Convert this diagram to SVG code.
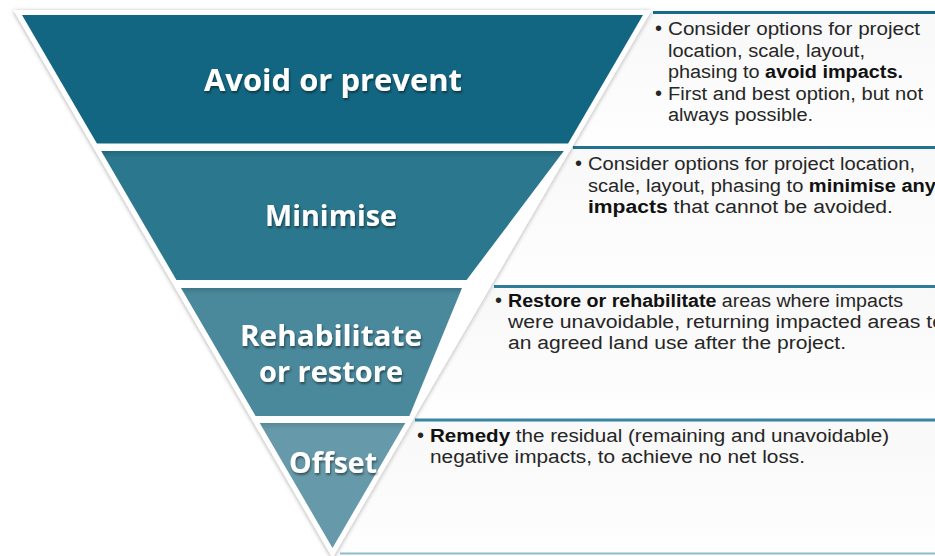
<svg xmlns="http://www.w3.org/2000/svg" width="935" height="556" viewBox="0 0 935 556">
  <defs>
    <filter id="outlineShadow" x="-10%" y="-10%" width="120%" height="120%">
      <feGaussianBlur in="SourceAlpha" stdDeviation="2.2"/>
      <feOffset dx="0" dy="1" result="blur"/>
      <feFlood flood-color="#000" flood-opacity="0.35"/>
      <feComposite in2="blur" operator="in"/>
      <feMerge><feMergeNode/><feMergeNode in="SourceGraphic"/></feMerge>
    </filter>
    <filter id="labelShadow" x="-10%" y="-30%" width="120%" height="160%">
      <feGaussianBlur in="SourceAlpha" stdDeviation="1"/>
      <feOffset dx="1" dy="1.5" result="blur"/>
      <feFlood flood-color="#000" flood-opacity="0.45"/>
      <feComposite in2="blur" operator="in"/>
      <feMerge><feMergeNode/><feMergeNode in="SourceGraphic"/></feMerge>
    </filter>
    <linearGradient id="boxFill" x1="0" y1="0" x2="0" y2="1">
      <stop offset="0" stop-color="#f8f8f8"/>
      <stop offset="1" stop-color="#fefefe"/>
    </linearGradient>
    <linearGradient id="g1" x1="0" y1="0" x2="0" y2="1">
      <stop offset="0" stop-color="#136681"/>
      <stop offset="1" stop-color="#136681"/>
    </linearGradient>
    <linearGradient id="g2" x1="0" y1="0" x2="0" y2="1">
      <stop offset="0" stop-color="#21677c"/>
      <stop offset="0.05" stop-color="#2b778d"/>
      <stop offset="1" stop-color="#2b778d"/>
    </linearGradient>
    <linearGradient id="g3" x1="0" y1="0" x2="0" y2="1">
      <stop offset="0" stop-color="#3d7789"/>
      <stop offset="0.05" stop-color="#4a889b"/>
      <stop offset="1" stop-color="#4a889b"/>
    </linearGradient>
    <linearGradient id="g4" x1="0" y1="0" x2="0" y2="1">
      <stop offset="0" stop-color="#588a99"/>
      <stop offset="0.05" stop-color="#6699a9"/>
      <stop offset="1" stop-color="#6699a9"/>
    </linearGradient>
  </defs>
  <style>
    .label { font-family: "Open Sans", "Liberation Sans", sans-serif; font-weight: bold; fill: #ffffff; text-anchor: middle; }
    .body { font-family: "Liberation Sans", "Noto Sans", sans-serif; font-size: 18px; fill: #262626; }
    .b { font-weight: bold; fill: #111111; }
    .boxbg { fill: url(#boxFill); }
    .topline { stroke-width: 3; }
    .bullet { font-family: "Liberation Sans", sans-serif; font-size: 20px; fill: #262626; }
  </style>

  <rect width="935" height="556" fill="#ffffff"/>

  <!-- text panels sit behind the funnel -->
  <g id="panel-avoid">
    <polygon class="boxbg" points="653.3,11 935,11 935,145 575.3,145"/>
    <line class="topline" x1="653" y1="12.5" x2="935" y2="12.5" stroke="#17698a"/>
    <text class="bullet" x="655" y="35">•</text>
    <text class="body" x="668" y="35" textLength="252" lengthAdjust="spacingAndGlyphs">Consider options for project</text>
    <text class="body" x="668" y="57" textLength="197" lengthAdjust="spacingAndGlyphs">location, scale, layout,</text>
    <text class="body" x="668" y="78" textLength="235" lengthAdjust="spacingAndGlyphs">phasing to <tspan class="b">avoid impacts.</tspan></text>
    <text class="bullet" x="655" y="100">•</text>
    <text class="body" x="668" y="100" textLength="255" lengthAdjust="spacingAndGlyphs">First and best option, but not</text>
    <text class="body" x="668" y="121" textLength="145" lengthAdjust="spacingAndGlyphs">always possible.</text>
  </g>

  <g id="panel-minimise">
    <polygon class="boxbg" points="574.7,146 935,146 935,284.5 494,284.5"/>
    <line class="topline" x1="573" y1="147.5" x2="935" y2="147.5" stroke="#23728f"/>
    <text class="bullet" x="575" y="170">•</text>
    <text class="body" x="588" y="170" textLength="327" lengthAdjust="spacingAndGlyphs">Consider options for project location,</text>
    <text class="body" x="588" y="192" textLength="348" lengthAdjust="spacingAndGlyphs">scale, layout, phasing to <tspan class="b">minimise any</tspan></text>
    <text class="body" x="588" y="213" textLength="305" lengthAdjust="spacingAndGlyphs"><tspan class="b">impacts</tspan> that cannot be avoided.</text>
  </g>

  <g id="panel-rehabilitate">
    <polygon class="boxbg" points="494,285 935,285 935,418.5 416,418.5"/>
    <line class="topline" x1="494" y1="286.5" x2="935" y2="286.5" stroke="#2e7c98"/>
    <text class="bullet" x="495" y="307">•</text>
    <text class="body" x="508" y="307" textLength="395" lengthAdjust="spacingAndGlyphs"><tspan class="b">Restore or rehabilitate</tspan> areas where impacts</text>
    <text class="body" x="508" y="328" textLength="436" lengthAdjust="spacingAndGlyphs">were unavoidable, returning impacted areas to</text>
    <text class="body" x="508" y="349" textLength="338" lengthAdjust="spacingAndGlyphs">an agreed land use after the project.</text>
  </g>

  <g id="panel-offset">
    <polygon class="boxbg" points="415.6,419 935,419 935,554 337,554"/>
    <line class="topline" x1="415" y1="420" x2="935" y2="420" stroke="#3a86a2" stroke-width="2"/>
    <line x1="415" y1="421.5" x2="935" y2="421.5" stroke="#8dbccc" stroke-width="1"/>
    <line x1="340" y1="553.5" x2="935" y2="553.5" stroke="#8dbccc" stroke-width="2"/>
    <text class="bullet" x="417" y="442">•</text>
    <text class="body" x="430" y="442" textLength="459" lengthAdjust="spacingAndGlyphs"><tspan class="b">Remedy</tspan> the residual (remaining and unavoidable)</text>
    <text class="body" x="430" y="463" textLength="375" lengthAdjust="spacingAndGlyphs">negative impacts, to achieve no net loss.</text>
  </g>

  <!-- white outline of the funnel with a soft shadow -->
  <polygon id="funnel-outline" points="13.3,10 651.7,10 332.5,557.9" fill="#ffffff" filter="url(#outlineShadow)"/>

  <g id="band-avoid">
    <polygon points="22,15 643,15 568.1,143.5 96.9,143.5" fill="url(#g1)"/>
    <text class="label" x="333" y="91" font-size="30" textLength="258" lengthAdjust="spacingAndGlyphs" filter="url(#labelShadow)">Avoid or prevent</text>
  </g>

  <g id="band-minimise">
    <polygon points="101.2,151 563.8,151 466.6,280 176.4,280" fill="url(#g2)"/>
    <text class="label" x="331" y="226" font-size="29" textLength="132" lengthAdjust="spacingAndGlyphs" filter="url(#labelShadow)">Minimise</text>
  </g>

  <g id="band-rehabilitate">
    <polygon points="181,288 462,288 409.4,416 255.6,416" fill="url(#g3)"/>
    <text class="label" x="331" y="346" font-size="29" textLength="182" lengthAdjust="spacingAndGlyphs" filter="url(#labelShadow)">Rehabilitate</text>
    <text class="label" x="331" y="382" font-size="29" textLength="144" lengthAdjust="spacingAndGlyphs" filter="url(#labelShadow)">or restore</text>
  </g>

  <g id="band-offset">
    <polygon points="259.7,423 405.3,423 332.5,548" fill="url(#g4)"/>
    <text class="label" x="333" y="473" font-size="29" textLength="88" lengthAdjust="spacingAndGlyphs" filter="url(#labelShadow)">Offset</text>
  </g>

  <g id="connectors"/>
</svg>
